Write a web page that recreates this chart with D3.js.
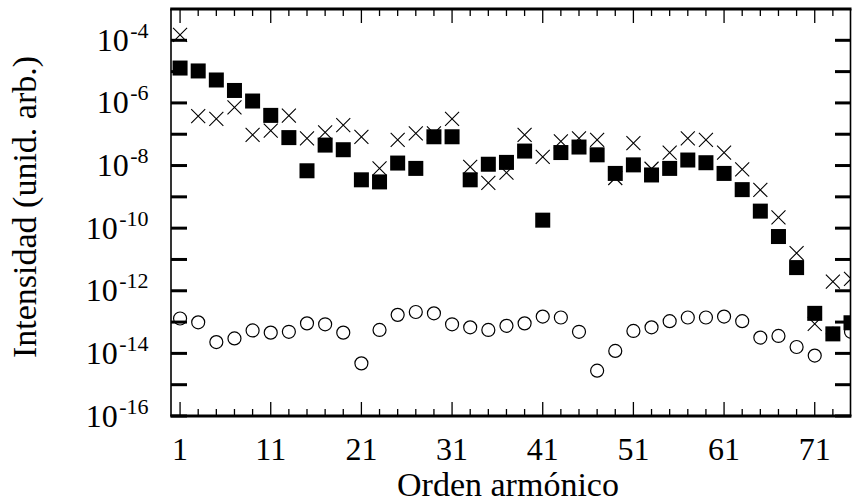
<!DOCTYPE html>
<html>
<head>
<meta charset="utf-8">
<script src="https://cdn.jsdelivr.net/npm/d3@7"></script>
<style>
html,body{margin:0;padding:0;background:#fff;}
svg{display:block;}
</style>
</head>
<body>
<svg id="chart" width="852" height="503"></svg>
<script>
// Harmonic orders (odd)
const harmonics = [1,3,5,7,9,11,13,15,17,19,21,23,25,27,29,31,33,35,37,39,41,43,45,47,49,51,53,55,57,59,61,63,65,67,69,71,73,75];
// Filled squares
const squares = [1.3e-5,1.05e-5,5.4e-6,2.5e-6,1.15e-6,4.0e-7,7.8e-8,6.8e-9,4.5e-8,3.2e-8,3.5e-9,3.0e-9,1.2e-8,8.1e-9,8.3e-8,8.3e-8,3.5e-9,1.1e-8,1.26e-8,2.9e-8,1.8e-10,2.6e-8,3.9e-8,2.2e-8,5.6e-9,1.05e-8,5.0e-9,8.1e-9,1.5e-8,1.23e-8,5.6e-9,1.7e-9,3.5e-10,5.4e-11,5.5e-12,1.9e-13,4.2e-14,9.5e-14];
// Crosses
const crosses = [1.5e-4,3.8e-7,3.1e-7,7.2e-7,9.5e-8,1.3e-7,3.9e-7,7.4e-8,1.15e-7,1.95e-7,8.3e-8,8.1e-9,6.6e-8,1.07e-7,1.07e-7,3.1e-7,9.1e-9,2.8e-9,5.9e-9,9.5e-8,1.9e-8,5.9e-8,7.4e-8,6.6e-8,4.0e-9,5.2e-8,7.9e-9,2.6e-8,7.4e-8,6.6e-8,2.6e-8,7.6e-9,1.66e-9,2.2e-10,1.6e-11,8.7e-14,1.95e-12,2.4e-12];
// Open circles
const circles = [1.3e-13,9.8e-14,2.3e-14,3.0e-14,5.4e-14,4.6e-14,4.9e-14,9.1e-14,8.5e-14,4.6e-14,4.8e-15,5.6e-14,1.7e-13,2.1e-13,1.9e-13,8.5e-14,6.8e-14,5.6e-14,7.6e-14,9.1e-14,1.5e-13,1.4e-13,4.9e-14,2.8e-15,1.2e-14,5.2e-14,6.8e-14,1.07e-13,1.4e-13,1.4e-13,1.5e-13,1.07e-13,3.2e-14,3.6e-14,1.6e-14,8.5e-15,4.2e-14,4.9e-14];

const xMajorTicks = [1,11,21,31,41,51,61,71];
const xMinorTicks = [3,5,7,9,13,15,17,19,23,25,27,29,33,35,37,39,43,45,47,49,53,55,57,59,63,65,67,69,73];
const yTickExps = [-16,-15,-14,-13,-12,-11,-10,-9,-8,-7,-6,-5,-4];
const yLabelExps = [-16,-14,-12,-10,-8,-6,-4];
const xTitle = "Orden armónico";
const yTitle = "Intensidad (unid. arb.)";

const FONT = "'Liberation Serif', 'Times New Roman', Times, 'DejaVu Serif', serif";
const L = 171, R = 851, T = 9, B = 416;
const svg = d3.select("#chart");
const x = d3.scaleLinear().domain([0,75]).range([L,R]);
const y = d3.scaleLog().domain([1e-16,1e-3]).range([B,T]);

svg.append("defs").append("clipPath").attr("id","clip")
  .append("rect").attr("x",L).attr("y",T).attr("width",R-L).attr("height",B-T);

const plot = svg.append("g").attr("clip-path","url(#clip)");

// circles (bottom layer)
plot.append("g").selectAll("circle").data(harmonics.map((h,i)=>[h,circles[i]]))
  .join("circle").attr("cx",d=>x(d[0])).attr("cy",d=>y(d[1])).attr("r",6.5)
  .attr("fill","none").attr("stroke","#000").attr("stroke-width",1.2);

// crosses
const cs = 7;
plot.append("g").selectAll("path").data(harmonics.map((h,i)=>[h,crosses[i]]))
  .join("path")
  .attr("d",d=>{const cx=x(d[0]),cy=y(d[1]);return `M${cx-cs},${cy-cs}L${cx+cs},${cy+cs}M${cx-cs},${cy+cs}L${cx+cs},${cy-cs}`;})
  .attr("stroke","#000").attr("stroke-width",1.1).attr("fill","none");

// squares (top)
const sq = 15;
plot.append("g").selectAll("rect").data(harmonics.map((h,i)=>[h,squares[i]]))
  .join("rect").attr("x",d=>x(d[0])-sq/2).attr("y",d=>y(d[1])-sq/2)
  .attr("width",sq).attr("height",sq).attr("fill","#000");

// ticks
const tk = svg.append("g");
yTickExps.forEach(e=>{
  const yy = y(Math.pow(10,e));
  tk.append("line").attr("x1",L).attr("x2",L+16).attr("y1",yy).attr("y2",yy).attr("stroke","#000").attr("stroke-width",3);
  tk.append("line").attr("x1",R-16).attr("x2",R).attr("y1",yy).attr("y2",yy).attr("stroke","#000").attr("stroke-width",3);
});
xMajorTicks.forEach(v=>{
  const xx = x(v);
  tk.append("line").attr("x1",xx).attr("x2",xx).attr("y1",B).attr("y2",B-14).attr("stroke","#000").attr("stroke-width",1.3);
  tk.append("line").attr("x1",xx).attr("x2",xx).attr("y1",T).attr("y2",T+14).attr("stroke","#000").attr("stroke-width",1.3);
});
xMinorTicks.forEach(v=>{
  const xx = x(v);
  tk.append("line").attr("x1",xx).attr("x2",xx).attr("y1",B).attr("y2",B-7).attr("stroke","#000").attr("stroke-width",1.3);
  tk.append("line").attr("x1",xx).attr("x2",xx).attr("y1",T).attr("y2",T+7).attr("stroke","#000").attr("stroke-width",1.3);
});

// frame
svg.append("line").attr("x1",L).attr("x2",L).attr("y1",T).attr("y2",B).attr("stroke","#000").attr("stroke-width",1.6);
svg.append("line").attr("x1",R-0.5).attr("x2",R-0.5).attr("y1",T).attr("y2",B).attr("stroke","#000").attr("stroke-width",1.6);
svg.append("line").attr("x1",L-0.8).attr("x2",R+0.5).attr("y1",T).attr("y2",T).attr("stroke","#000").attr("stroke-width",3);
svg.append("line").attr("x1",L-0.8).attr("x2",R+0.5).attr("y1",B).attr("y2",B).attr("stroke","#000").attr("stroke-width",3);

// x tick labels
svg.append("g").selectAll("text").data(xMajorTicks).join("text")
  .attr("font-family",FONT)
  .attr("x",d=>x(d)).attr("y",460).attr("text-anchor","middle")
  .attr("font-size",32).text(d=>d);

// y tick labels
const yl = svg.append("g").selectAll("text").data(yLabelExps).join("text")
  .attr("font-family",FONT)
  .attr("x",148.5).attr("y",d=>y(Math.pow(10,d))+10.5).attr("text-anchor","end")
  .attr("font-size",32);
yl.append("tspan").text("10");
yl.append("tspan").attr("dx",1.5).attr("dy",-13).attr("font-size",22).text(d=>String(d));

// axis titles
svg.append("text").attr("font-family",FONT).attr("x",(L+R)/2-3).attr("y",496).attr("text-anchor","middle")
  .attr("font-size",34).text(xTitle);
svg.append("text").attr("font-family",FONT).attr("transform","translate(35.5,207) rotate(-90)")
  .attr("text-anchor","middle").attr("font-size",34).text(yTitle);
</script>
</body>
</html>
